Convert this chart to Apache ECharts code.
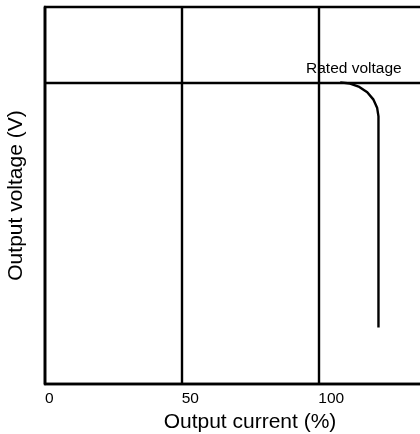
<!DOCTYPE html>
<html>
<head>
<meta charset="utf-8">
<script src="https://cdn.jsdelivr.net/npm/echarts@6/dist/echarts.min.js"></script>
<style>html,body{margin:0;padding:0;background:#fff}#c{width:420px;height:434px}</style>
</head>
<body>
<div id="c"></div>
<script>
var xTicks = [0, 50, 100];
var xMax = 150;
var ratedVoltage = 80;
var curveX = [108, 111.6, 115, 117.9, 120.1, 121.5, 122, 122];
var curveY = [80, 79.7, 78.8, 77.4, 75.5, 73.3, 71, 15];
var xTitle = 'Output current (%)';
var yTitle = 'Output voltage (V)';
var ratedLabel = 'Rated voltage';

var chart = echarts.init(document.getElementById('c'), null, {renderer: 'canvas'});
var pts = curveX.map(function (x, i) { return [x, curveY[i]]; });
var font = 'Liberation Sans, Arial, sans-serif';
var lw = 2.4;
chart.setOption({
  animation: false,
  grid: {left: 45, top: 7, width: 410, height: 377, outerBoundsMode: 'none', containLabel: false,
    show: true, borderColor: '#000', borderWidth: lw, backgroundColor: 'transparent'},
  xAxis: {
    type: 'value', min: 0, max: xMax, interval: 50,
    name: xTitle, nameLocation: 'middle', nameGap: 18,
    nameTextStyle: {fontSize: 21, color: '#000', fontFamily: font},
    axisLine: {show: true, lineStyle: {color: '#000', width: lw}},
    axisTick: {show: false},
    axisLabel: {show: true, align: 'left', margin: 7, fontSize: 15.5, color: '#000', fontFamily: font,
      showMaxLabel: false,
      formatter: function (v) { return xTicks.indexOf(v) >= 0 ? String(v) : ''; }},
    splitLine: {show: true, lineStyle: {color: '#000', width: lw}}
  },
  yAxis: {
    type: 'value', min: 0, max: 100,
    name: yTitle, nameLocation: 'middle', nameGap: 18,
    nameTextStyle: {fontSize: 21, color: '#000', fontFamily: font},
    axisLine: {show: true, lineStyle: {color: '#000', width: lw}},
    axisTick: {show: false}, axisLabel: {show: false}, splitLine: {show: false}
  },
  series: [{
    type: 'line', data: pts, showSymbol: false, symbol: 'none', smooth: false,
    lineStyle: {color: '#000', width: lw},
    markLine: {
      silent: true, symbol: 'none', label: {show: false},
      lineStyle: {color: '#000', width: lw, type: 'solid'},
      data: [{yAxis: ratedVoltage}]
    },
    markPoint: {
      symbol: 'circle', symbolSize: 0,
      label: {show: true, position: 'top', distance: 6, formatter: ratedLabel, fontSize: 15.5, color: '#000', fontFamily: font},
      data: [{coord: [113, ratedVoltage]}]
    }
  }]
});
</script>
</body>
</html>
